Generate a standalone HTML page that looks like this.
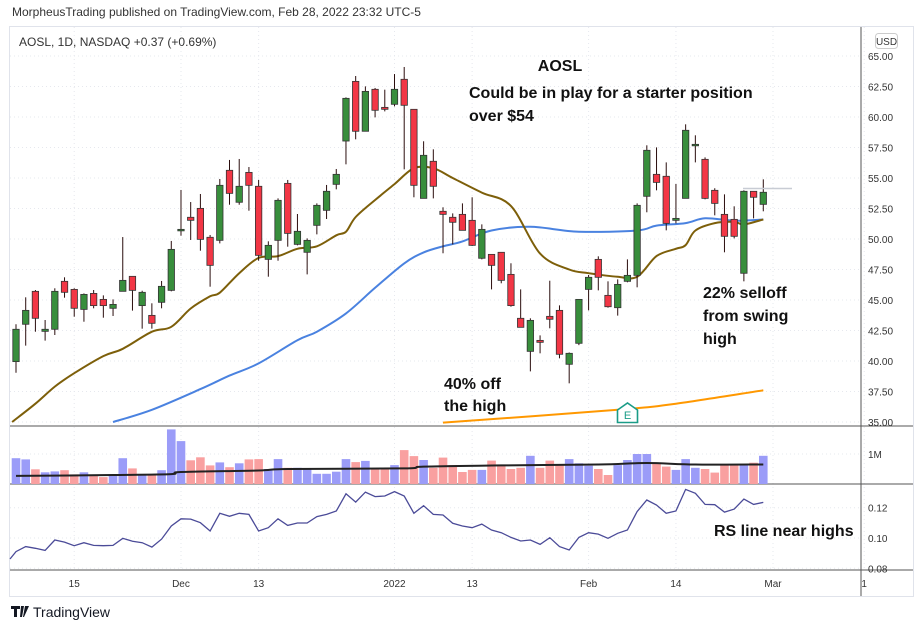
<!DOCTYPE html>
<html><head><meta charset="utf-8"><style>
body{margin:0;background:#fff;font-family:"Liberation Sans",sans-serif;}
svg text{font-family:"Liberation Sans",sans-serif;}
</style></head><body>
<svg id="c" width="924" height="631" xmlns="http://www.w3.org/2000/svg">
<text x="12" y="16" font-size="12" fill="#333">MorpheusTrading published on TradingView.com, Feb 28, 2022 23:32 UTC-5</text>
<rect x="9.5" y="26.5" width="904" height="570" fill="none" stroke="#e0e3eb"/>
<g id="grid"></g>
<line x1="861" y1="27" x2="861" y2="596" stroke="#555"/>
<line x1="10" y1="426" x2="913" y2="426" stroke="#555"/>
<line x1="10" y1="484" x2="913" y2="484" stroke="#555"/>
<line x1="10" y1="570" x2="913" y2="570" stroke="#555"/>
<text x="19" y="46" font-size="12" fill="#333">AOSL, 1D, NASDAQ  +0.37 (+0.69%)</text>
<rect x="875.5" y="33.5" width="22" height="15" rx="3" fill="#fff" stroke="#ccc"/>
<text x="886.5" y="45" font-size="10" fill="#333" text-anchor="middle">USD</text>
<g id="vol"></g><g id="ma"></g><g id="candles"></g><g id="rs"></g><g id="labels"></g>
<line x1="743" y1="188.5" x2="792" y2="188.5" stroke="#c8ccd4" stroke-width="1.5"/>
<g><path d="M617.5 422.5 V410 L627.5 403 L637.5 410 V422.5 Z" fill="#fff" stroke="#1a9c87" stroke-width="1.6"/><text x="627.5" y="419" font-size="11" fill="#1a9c87" text-anchor="middle">E</text></g>
<g font-weight="bold" font-size="16" fill="#111">
<text x="560" y="71" text-anchor="middle">AOSL</text>
<text x="469" y="98">Could be in play for a starter position</text>
<text x="469" y="121">over $54</text>
<text x="703" y="298">22% selloff</text>
<text x="703" y="321">from swing</text>
<text x="703" y="344">high</text>
<text x="444" y="389">40% off</text>
<text x="444" y="411">the high</text>
<text x="714" y="536">RS line near highs</text>
</g>
<g><path d="M11 606h9v3h-3v8h-3v-8h-3z M21 606h3l-2 11h-2z M25 606h4l-5 11h-1z" fill="#131722"/><text x="33" y="617" font-size="14" fill="#131722">TradingView</text></g>
</svg>
<script>
const NS="http://www.w3.org/2000/svg";
const opens=[39.95,43.01,45.71,42.43,42.6,46.53,45.87,44.23,45.54,45.05,44.32,45.71,46.94,44.54,43.74,44.81,45.79,50.68,51.78,52.51,50.14,49.89,55.63,53.01,55.46,54.32,48.33,49.89,54.56,49.56,48.91,51.12,52.35,54.48,58.03,62.92,58.83,62.27,60.79,61.04,63.09,60.63,53.33,56.37,52.27,51.78,52.02,51.53,48.42,48.74,48.91,47.1,43.5,40.79,41.69,43.66,44.15,39.73,41.45,45.87,48.33,45.38,44.37,46.53,47.02,53.5,55.3,55.14,51.53,53.33,57.68,56.53,53.99,52.02,51.61,47.19,53.91,52.84];
const highs=[43.01,45.22,45.82,43.36,45.96,46.86,45.96,45.54,45.82,45.38,45.05,50.16,46.94,45.76,44.73,46.56,49.84,54.02,53.03,53.69,50.33,54.92,56.48,56.56,55.9,54.84,49.81,53.33,54.84,52.05,50.05,52.92,54.43,55.74,61.61,63.36,62.51,62.38,62.24,63.52,64.1,60.63,58.01,57.35,52.6,52.1,52.92,53.42,51.2,48.74,48.91,48.01,45.87,43.5,42.1,46.58,44.56,40.7,45.05,47.05,48.58,46.53,46.69,48.33,52.92,57.68,57.51,56.28,54.51,59.4,58.5,56.69,54.16,53.66,52.68,53.99,53.91,54.89];
const lows=[39.04,41.26,42.4,41.67,42.13,45.19,43.63,43.22,44.32,43.55,43.69,45.71,44.13,42.65,42.65,44.32,45.71,50.27,49.92,49.04,46.09,49.64,52.81,52.81,52.32,48.22,46.91,48.22,49.37,49.48,47.1,50.38,51.64,54.07,56.12,58.17,58.83,59.97,60.46,60.87,55.71,53.42,53.33,53.33,48.83,49.56,50.71,49.43,48.33,45.87,46.37,44.45,42.76,39.15,40.63,42.68,40.22,38.17,41.3,44.15,45.79,44.37,43.72,46.45,46.04,52.19,53.99,50.71,51.28,53.33,56.28,53.25,51.94,48.91,50.05,46.53,51.69,52.27];
const closes=[42.6,44.15,43.5,42.6,45.71,45.63,44.32,45.46,44.54,44.54,44.64,46.61,45.79,45.63,43.09,46.12,49.15,50.79,51.53,49.97,47.84,54.4,53.74,54.32,54.4,48.66,49.48,53.17,50.46,50.63,49.89,52.76,53.91,55.3,61.53,58.83,62.1,60.55,60.63,62.27,60.96,54.4,56.86,54.32,52.02,51.37,50.71,49.48,50.79,47.84,46.61,44.54,42.76,43.33,41.53,43.42,40.55,40.63,45.05,46.86,46.86,44.45,46.28,47.02,52.76,57.27,54.64,51.28,51.69,58.91,57.76,53.33,52.92,50.22,50.22,53.91,53.42,53.83];
const volumes=[0.86,0.82,0.49,0.39,0.42,0.46,0.32,0.39,0.29,0.23,0.30,0.86,0.52,0.32,0.32,0.46,1.82,1.43,0.79,0.89,0.62,0.72,0.56,0.69,0.82,0.83,0.5,0.83,0.54,0.54,0.52,0.34,0.34,0.41,0.83,0.73,0.77,0.52,0.52,0.63,1.13,0.93,0.8,0.54,0.88,0.63,0.40,0.47,0.47,0.78,0.63,0.50,0.54,0.94,0.54,0.78,0.63,0.83,0.69,0.61,0.50,0.30,0.63,0.80,1.0,1.0,0.71,0.58,0.47,0.83,0.54,0.50,0.38,0.63,0.63,0.63,0.71,0.94];
const rsValues=[0.091,0.0943,0.0932,0.0918,0.0987,0.0973,0.0949,0.0969,0.0951,0.0949,0.0951,0.0998,0.0978,0.0969,0.094,0.0993,0.1079,0.1127,0.1125,0.1101,0.1046,0.1163,0.1143,0.1163,0.1156,0.1046,0.1068,0.1127,0.1083,0.1099,0.1099,0.1141,0.1156,0.1178,0.1292,0.1237,0.1303,0.1273,0.1277,0.1306,0.1277,0.1163,0.1213,0.1156,0.1152,0.1097,0.1079,0.1068,0.1092,0.1053,0.1035,0.1004,0.098,0.0987,0.0958,0.1002,0.0943,0.0921,0.1004,0.1035,0.1026,0.0998,0.1031,0.1053,0.1174,0.1251,0.1218,0.1163,0.1178,0.1321,0.1295,0.1222,0.122,0.1171,0.1191,0.1257,0.1222,0.1235];
const ma20Idx=[-0.4,2,4,6,9,11,14,16,18,20,21,23,25,27,29,31,33,34,35,37,39,41,43,45,48,51,54,57,59,62,64,66,68,69,70,72,74,75,77];
const ma20Val=[35.0,36.5,37.9,39.0,40.4,41.0,42.4,42.8,44.3,45.3,45.6,47.2,48.45,48.6,49.2,49.4,50.3,50.6,51.8,53.2,54.5,55.8,55.8,55.0,53.8,52.7,48.8,47.5,47.2,46.9,46.9,48.6,49.2,49.5,50.7,51.3,51.4,51.2,51.6];
const ma50Idx=[10,14,19,22,25,29,31,34,37,40,42,44,46,49,53,58,64,66,69,71,74,77];
const ma50Val=[35.0,36.0,37.7,38.8,39.8,41.7,42.4,43.9,46.0,48.0,48.9,49.4,49.8,50.7,51.0,50.6,50.7,51.1,51.3,51.7,51.5,51.6];
const ma200Idx=[44,62,68,77];
const ma200Val=[34.95,36.0,36.5,37.6];
const volMaIdx=[0,10,16,17,25,28,40,42,50,60,65,70,77];
const volMaVal=[0.27,0.30,0.33,0.40,0.45,0.50,0.52,0.58,0.62,0.65,0.70,0.65,0.65];
const priceTicks=[65,62.5,60,57.5,55,52.5,50,47.5,45,42.5,40,37.5,35];
const rsTicks=[0.12,0.10,0.08];
const timeLabels=["15","Dec","13","2022","13","Feb","14","Mar","1"];
const timeIdx=[6,17,25,39,47,59,68,78,87.4];

const xS=i=>16+i*9.705;
const yP=p=>56+(65-p)*12.2;
const yV=v=>484-v*30;
const yR=r=>507.7+(0.12-r)*1515;
function mk(tag,attrs,parent){const e=document.createElementNS(NS,tag);for(const k in attrs)e.setAttribute(k,attrs[k]);document.getElementById(parent).appendChild(e);return e;}

priceTicks.forEach(p=>{
  const g=mk('line',{x1:10,x2:861,y1:yP(p),y2:yP(p),stroke:'#e6e8ee','stroke-dasharray':'1 3'},'grid');
  
  
  const t=mk('text',{x:868,y:yP(p)+4,'font-size':10,fill:'#333'},'labels');t.textContent=p.toFixed(2);
  
  
});
rsTicks.forEach(r=>{
  const g=mk('line',{x1:10,x2:861,y1:yR(r),y2:yR(r),stroke:'#e6e8ee','stroke-dasharray':'1 3'},'grid');
  
  
  const t=mk('text',{x:868,y:yR(r)+4,'font-size':10,fill:'#333'},'labels');t.textContent=r.toFixed(2);
  
  
});
{const g=mk('line',{x1:10,x2:861,y1:yV(1),y2:yV(1),stroke:'#e6e8ee','stroke-dasharray':'1 3'},'grid');


const t=mk('text',{x:868,y:yV(1)+4,'font-size':10,fill:'#333'},'labels');t.textContent='1M';

}
timeLabels.forEach((s,k)=>{
  const x=xS(timeIdx[k]);
  const g=mk('line',{x1:x,x2:x,y1:27,y2:570,stroke:'#e6e8ee','stroke-dasharray':'1 3'},'grid');
  
  
  const t=mk('text',{x:x,y:587,'font-size':10,fill:'#333','text-anchor':'middle'},'labels');t.textContent=s;
  
  
});
volumes.forEach((v,i)=>{
  const up=closes[i]>=opens[i];
  const r=mk('rect',{x:xS(i)-4.3,y:yV(v),width:8.6,height:v*30,fill:up?'#9b9cf8':'#f9a0a0'},'vol');
  
  
});
function smooth(pts){
  let d='M'+pts[0][0].toFixed(1)+','+pts[0][1].toFixed(1);
  for(let k=0;k<pts.length-1;k++){
    const p0=pts[k-1]||pts[k],p1=pts[k],p2=pts[k+1],p3=pts[k+2]||p2;
    const c1=[p1[0]+(p2[0]-p0[0])/6,p1[1]+(p2[1]-p0[1])/6];
    const c2=[p2[0]-(p3[0]-p1[0])/6,p2[1]-(p3[1]-p1[1])/6];
    d+=' C'+c1.map(v=>v.toFixed(1)).join(',')+' '+c2.map(v=>v.toFixed(1)).join(',')+' '+p2.map(v=>v.toFixed(1)).join(',');
  }
  return d;
}
function line(idx,val,ys,color,w,name){
  const pts=idx.map((d,k)=>[xS(d),ys(val[k])]);
  const e=mk('path',{d:smooth(pts),fill:'none',stroke:color,'stroke-width':w,'stroke-linejoin':'round'},'ma');
  
  
}
line(volMaIdx,volMaVal,yV,'#222',2,'volume-ma-line');
line(ma200Idx,ma200Val,yP,'#ff9800',2,'ma200-line');
line(ma50Idx,ma50Val,yP,'#4a82e0',2,'ma50-line');
line(ma20Idx,ma20Val,yP,'#7d5f0a',2,'ma20-line');
opens.forEach((o,i)=>{
  const c=closes[i],x=xS(i),up=c>=o;
  const w=mk('line',{x1:x,x2:x,y1:yP(highs[i]),y2:yP(lows[i]),stroke:'#2a0d0d','stroke-width':1},'candles');
  
  
  const top=yP(Math.max(o,c)),h=Math.max(1.5,Math.abs(yP(o)-yP(c)));
  const b=mk('rect',{x:x-3.2,y:top,width:6.4,height:h,fill:up?'#388e3c':'#f23645',stroke:'#333','stroke-width':0.8},'candles');
  
  
});
{const pts=rsValues.map((r,i)=>xS(i).toFixed(1)+','+yR(r).toFixed(1)).join(' ');
const e=mk('polyline',{points:'10,559 '+pts,fill:'none',stroke:'#4b4b98','stroke-width':1.3},'rs');

}
</script>
</body></html>
